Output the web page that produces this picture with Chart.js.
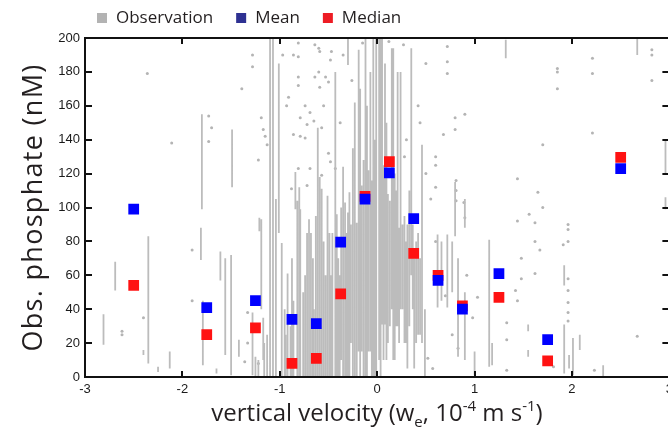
<!DOCTYPE html>
<html>
<head>
<meta charset="utf-8">
<script src="https://cdn.jsdelivr.net/npm/chart.js@4.4.1/dist/chart.umd.min.js"></script>
<style>
  html, body { margin: 0; padding: 0; background: #fff; overflow: hidden; }
  #wrap { width: 678px; height: 437px; }
</style>
</head>
<body>
<div id="wrap"><canvas id="phosChart"></canvas></div>
<script>
// bin centres of vertical velocity (10^-4 m s^-1)
const binX = [-2.5, -1.75, -1.25, -0.875, -0.625, -0.375, -0.125, 0.125, 0.375, 0.625, 0.875, 1.25, 1.75, 2.5];
const meanVals = [99, 41, 45, 34, 31.5, 79.5, 105, 120.5, 93.5, 57, 40, 61, 22, 123];
const medianVals = [54, 25, 29, 8, 11, 49, 106.5, 127, 73, 60, 42, 47, 9.5, 129.5];

// observations: vertical runs of samples (x, lowest, highest)
const obsStreakX = [-2.81, -2.69, -2.40, -2.35, -2.25, -2.13, -1.81, -1.80, -1.79, -1.65, -1.61, -1.56, -1.50, -1.49, -1.42, -1.28,
  -1.21, -1.19, -1.17, -1.13, -1.10, -1.07, -1.04, -1.01, -0.98, -0.95, -0.92, -0.89, -0.86, -0.84, -0.82, -0.79, -0.76,
  -0.72, -0.68, -0.65, -0.61, -0.57, -0.53, -0.49, -0.46, -0.43, -0.40, -0.37, -0.33, -0.30, -0.30, -0.27, -0.23, -0.19,
  -0.16, -0.12, -0.09, -0.07, -0.04, -0.01, 0.02, 0.05, 0.08, 0.11, 0.15, 0.18, 0.21, 0.24, 0.28, 0.31, 0.35, 0.38, 0.42,
  0.46, 0.49, 0.62, 0.66, 0.72, 0.77, 0.80, 0.83, 0.90, 0.90, 1.00, 1.15, 1.18, 1.32, 1.55, 1.55, 1.92, 1.92, 1.97, 2.01,
  2.08, 2.32, 2.67, 2.96, 2.96,
  -1.25, -1.22, -1.16, -0.94, -0.875, -0.80, -0.74, -0.70, -0.66, -0.63, -0.59, -0.55, -0.51, -0.475, -0.415, -0.385, -0.35,
  -0.315, -0.285, -0.25, -0.21, -0.175, -0.14, -0.105, -0.055, -0.025, 0.035, 0.065, 0.095, 0.13, 0.165, 0.195, 0.225,
  0.26, 0.295, 0.33, 0.365, 0.40, 0.44];
const obsStreakLow = [19, 51, 13, 8, 3, 5, 69, 99, 7, 2, 57, 13, 1, 112, 12, 1,
  86, 40, 10, 0, 0, 0, 0, 85, 0, 0, 0, 0, 0, 99, 0, 0, 0,
  0, 0, 0, 0, 0, 0, 0, 0, 0, 0, 10, 0, 0, 184, 20, 0, 15,
  15, 0, 15, 15, 0, 0, 10, 31, 31, 20, 40, 10, 30, 40, 20, 5, 60, 5, 25,
  20, 0, 41, 45, 41, 50, 83, 12, 88, 10, 1, 6, 7, 188, 12, 27, 54, 2, 5, 1,
  16, 0, 190, 120, 99,
  0, 0, 0, 0, 0, 0, 0, 0, 0, 0, 0, 0, 0, 0, 0, 0, 0,
  0, 0, 0, 0, 0, 0, 0, 0, 0, 0, 10, 10, 30, 10, 30, 20,
  40, 20, 30, 40, 20, 25];
const obsStreakHigh = [37, 68, 16, 83, 6, 15, 88, 155, 45, 5, 74, 70, 72, 146, 22, 38,
  94, 93, 35, 25, 200, 200, 105, 185, 79, 40, 61, 30, 45, 121, 104, 99, 50,
  85, 85, 40, 147, 111, 60, 85, 85, 180, 70, 100, 103, 97, 200, 90, 162, 193,
  113, 200, 122, 180, 200, 200, 200, 200, 185, 108, 194, 120, 180, 180, 95, 90, 194, 70, 85,
  137, 40, 84, 80, 84, 80, 115, 70, 105, 50, 15, 81, 20, 199, 16, 31, 66, 31, 13, 23,
  25, 7, 200, 140, 106,
  12, 10, 20, 25, 70, 112, 60, 93, 70, 95, 118, 80, 107, 60, 96, 60, 124,
  85, 109, 135, 91, 170, 128, 160, 116, 140, 200, 125, 150, 104, 194, 110, 88,
  90, 80, 110, 90, 80, 70];

// observations: isolated samples
const obsDotX = [-2.36, -2.11, -2.62, -2.62, -2.40, -1.90, -1.90, -1.73, -1.70, -1.73, -1.39, -1.28, -1.28, -1.19, -1.15,
  -1.13, -1.17, -1.22, -1.33, -1.33, -1.36, -1.22, -0.81, -0.81, -0.86, -0.64, -0.60, -0.59, -0.47, -0.48, -0.60, -0.64,
  -0.81, -0.81, -0.53, -0.50, -0.59, -0.93, -0.74, -0.69, -0.79, -0.65, -0.72, -0.57, -0.86, -0.79, -0.74, -0.50, -0.48,
  -0.81, -0.69, -0.43, -0.57, -0.72, -0.88, 0.60, 0.90, 0.92, 0.70, 1.03, 0.98, 0.77, 0.83, 0.52, 0.57, 0.72, 0.72, 0.72,
  0.80, 0.80, 0.90, 0.68, 0.60, 0.60, 0.81, 0.81, 0.81, 0.89, 1.33, 1.33, 1.33, 1.42, 1.44, 1.44, 1.48, 1.48, 1.56, 1.62,
  1.62, 1.62, 1.67, 1.44, 1.65, 1.70, 1.70, 1.81, 1.85, 1.85, 1.85, 1.91, 1.96, 1.96, 1.96, 1.96, 1.96, 1.96, 1.96, 1.96,
  2.21, 2.21, 2.21, 2.23, 2.67, 2.82, 2.82, 2.82,
  0.27, 0.42, 0.50, 0.44, 0.30, 0.55, 0.50, -0.35, -0.38, -0.15, 0.60, -0.97, -0.91, -0.55, -0.26, 0.12, 0.19, 0.28];
const obsDotY = [179, 138, 27, 25, 35, 75, 45, 154, 147, 139, 170, 190, 183, 153, 142,
  137, 146, 128, 38, 20, 9, 8, 197, 189, 190, 196, 194, 192, 192, 187, 180, 177,
  177, 172, 177, 174, 171, 160, 160, 156, 153, 151, 149, 147, 143, 142, 141, 132, 127,
  123, 123, 123, 119, 113, 111, 80, 94, 60, 48, 47, 35, 25, 17, 11, 5, 195, 186, 179,
  153, 146, 155, 143, 130, 125, 116, 110, 104, 103, 32, 22, 4, 51, 92, 45, 70, 58, 96, 91,
  80, 61, 75, 117, 109, 137, 100, 6, 182, 180, 170, 78, 90, 87, 80, 58, 51, 44, 38, 33,
  188, 179, 144, 4, 24, 175, 190, 193,
  196, 160, 185, 150, 140, 105, 120, 190, 150, 197, 112, 190, 165, 160, 175, 198, 104, 130];

const xTicks = [-3, -2, -1, 0, 1, 2, 3];
const yTicks = [0, 20, 40, 60, 80, 100, 120, 140, 160, 180, 200];

const GRAY = '#b4b4b4';
const legendItems = [
  { text: 'Observation', color: '#b3b3b3' },
  { text: 'Mean', color: '#2e3192' },
  { text: 'Median', color: '#ed1c24' },
];

const streakData = obsStreakX.flatMap((x, i) => [
  { x: x, y: obsStreakLow[i] },
  { x: x, y: obsStreakHigh[i] },
  { x: x, y: null },
]);

const framePlugin = {
  id: 'frameAndTitles',
  afterDatasetsDraw(chart) {
    const { ctx, chartArea: a, scales: { x, y } } = chart;
    ctx.save();
    ctx.strokeStyle = '#111';
    ctx.lineWidth = 2;
    ctx.strokeRect(a.left, a.top, a.right - a.left, a.bottom - a.top);
    ctx.beginPath();
    xTicks.forEach(v => {
      const px = Math.round(x.getPixelForValue(v));
      ctx.moveTo(px, a.top); ctx.lineTo(px, a.top + 6);
      ctx.moveTo(px, a.bottom); ctx.lineTo(px, a.bottom - 6);
    });
    yTicks.forEach(v => {
      const py = Math.round(y.getPixelForValue(v));
      ctx.moveTo(a.left, py); ctx.lineTo(a.left + 7, py);
      ctx.moveTo(a.right, py); ctx.lineTo(a.right - 7, py);
    });
    ctx.stroke();
    ctx.restore();
  },
  afterDraw(chart) {
    const { ctx, chartArea: a } = chart;
    ctx.save();
    ctx.fillStyle = '#231f20';
    ctx.textBaseline = 'alphabetic';

    // y title
    ctx.save();
    ctx.font = '27px "Open Sans"';
    ctx.letterSpacing = '1.3px';
    ctx.translate(42, (a.top + a.bottom) / 2);
    ctx.rotate(-Math.PI / 2);
    ctx.textAlign = 'center';
    ctx.fillText('Obs. phosphate (nM)', 0, 0);
    ctx.restore();

    // x title with sub/superscripts
    const big = '24px "Open Sans"', small = '15px "Open Sans"';
    const parts = [
      { t: 'vertical velocity (w', f: big, dy: 0 },
      { t: 'e', f: small, dy: 6 },
      { t: ', 10', f: big, dy: 0 },
      { t: '-4', f: small, dy: -10 },
      { t: ' m s', f: big, dy: 0 },
      { t: '-1', f: small, dy: -10 },
      { t: ')', f: big, dy: 0 },
    ];
    let total = 0;
    parts.forEach(p => { ctx.font = p.f; p.w = ctx.measureText(p.t).width; total += p.w; });
    let cx = 377 - total / 2;
    ctx.textAlign = 'left';
    parts.forEach(p => { ctx.font = p.f; ctx.fillText(p.t, cx, 421 + p.dy); cx += p.w; });

    // legend
    ctx.font = '17px "Open Sans"';
    ctx.textBaseline = 'middle';
    let lx = 97;
    legendItems.forEach(it => {
      ctx.fillStyle = it.color;
      ctx.fillRect(lx, 13, 10, 10);
      ctx.fillStyle = '#231f20';
      ctx.fillText(it.text, lx + 19, 18);
      lx += 19 + ctx.measureText(it.text).width + 23;
    });
    ctx.restore();
  }
};

const phosChart = new Chart(document.getElementById('phosChart'), {
  type: 'scatter',
  data: {
    datasets: [
      {
        label: 'Mean',
        data: binX.map((x, i) => ({ x: x, y: meanVals[i] })),
        backgroundColor: '#0000ff',
        borderWidth: 0,
        pointStyle: 'rect',
        pointRadius: 7.6,
        pointHoverRadius: 7.6,
        order: 1,
      },
      {
        label: 'Median',
        data: binX.map((x, i) => ({ x: x, y: medianVals[i] })),
        backgroundColor: '#ff1212',
        borderWidth: 0,
        pointStyle: 'rect',
        pointRadius: 7.6,
        pointHoverRadius: 7.6,
        order: 2,
      },
      {
        label: 'Observation',
        data: streakData,
        showLine: true,
        spanGaps: false,
        borderColor: '#bcbcbc',
        borderWidth: 1.8,
        pointRadius: 0,
        order: 3,
      },
      {
        label: 'Observation dots',
        data: obsDotX.map((x, i) => ({ x: x, y: obsDotY[i] })),
        backgroundColor: GRAY,
        borderWidth: 0,
        pointRadius: 1.5,
        order: 4,
      },
    ]
  },
  options: {
    responsive: true,
    maintainAspectRatio: false,
    animation: false,
    layout: {
      padding: { top: 38, right: 5, left: 0, bottom: 0 }
    },
    scales: {
      x: {
        type: 'linear',
        min: -3,
        max: 3,
        offset: false,
        afterBuildTicks: (scale) => { scale.ticks = xTicks.map(v => ({ value: v })); },
        afterFit: (scale) => { scale.height = 60; },
        ticks: {
          padding: 5,
          color: '#1a1a1a',
          font: { family: '"Liberation Sans", Arial', size: 13 },
        },
        grid: { display: false, drawTicks: false },
        border: { display: false },
      },
      y: {
        min: 0,
        max: 200,
        afterBuildTicks: (scale) => { scale.ticks = yTicks.map(v => ({ value: v })); },
        afterFit: (scale) => { scale.width = 85; },
        ticks: {
          padding: 5,
          color: '#1a1a1a',
          font: { family: '"Liberation Sans", Arial', size: 13 },
        },
        grid: { display: false, drawTicks: false },
        border: { display: false },
      }
    },
    plugins: {
      legend: { display: false },
      tooltip: { enabled: false },
    }
  },
  plugins: [framePlugin],
});
</script>
</body>
</html>
